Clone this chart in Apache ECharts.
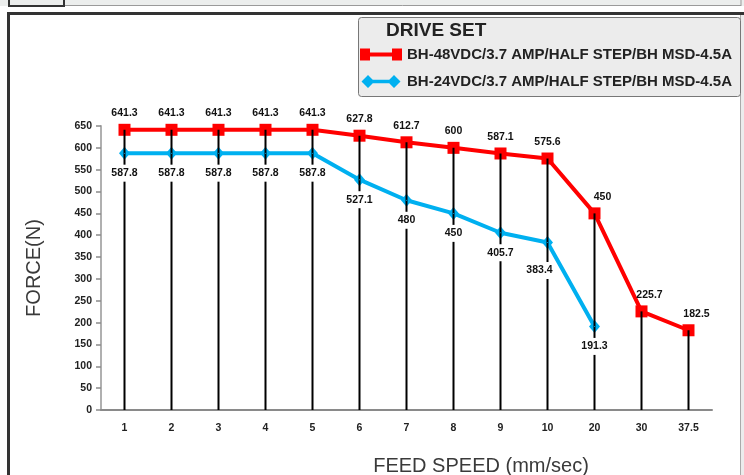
<!DOCTYPE html>
<html>
<head>
<meta charset="utf-8">
<script src="https://cdn.jsdelivr.net/npm/echarts@6/dist/echarts.min.js"></script>
<style>
html,body{margin:0;padding:0;background:#fff;}
#chart{width:744px;height:475px;}
</style>
</head>
<body>
<div id="chart"></div>
<script>
const categories = ['1','2','3','4','5','6','7','8','9','10','20','30','37.5'];
const force48 = [641.3,641.3,641.3,641.3,641.3,627.8,612.7,600,587.1,575.6,450,225.7,182.5];
const force24 = [587.8,587.8,587.8,587.8,587.8,527.1,480,450,405.7,383.4,191.3,null,null];
const seriesNames = ['BH-48VDC/3.7 AMP/HALF STEP/BH MSD-4.5A','BH-24VDC/3.7 AMP/HALF STEP/BH MSD-4.5A'];
const yMin = 0, yMax = 650, yStep = 50;

const FONT = '"Liberation Sans", Arial, sans-serif';
const dropValues = categories.map((c, i) => Math.max(force48[i], force24[i] == null ? 0 : force24[i]));
const redData = force48.map((v, i) => i >= 10 ? {value: v, label: {offset: [8, 0]}} : v);
const blueLabelData = force24.map((v, i) => i === 9 ? {value: v, label: {offset: [-8, 8]}} : v);

const chart = echarts.init(document.getElementById('chart'), null, {renderer: 'canvas'});
chart.setOption({
  animation: false,
  backgroundColor: '#fff',
  textStyle: {fontFamily: FONT},
  graphic: [
    {type: 'rect', z: -10, shape: {x: 0, y: 0, width: 744, height: 6}, style: {fill: '#eceeed'}},
    {type: 'line', z: -9, shape: {x1: 64, y1: 5.5, x2: 741, y2: 5.5}, style: {stroke: '#9a9a9a', lineWidth: 1}},
    {type: 'line', z: -9, shape: {x1: 741, y1: 0, x2: 741, y2: 6}, style: {stroke: '#9a9a9a', lineWidth: 1}},
    {type: 'rect', z: -9, shape: {x: 9, y: -3, width: 55, height: 9}, style: {fill: 'none', stroke: '#333', lineWidth: 2}},
    {type: 'rect', z: -10, shape: {x: 741, y: 15, width: 3, height: 460}, style: {fill: '#ececec'}},
    {type: 'line', z: -9, shape: {x1: 740.5, y1: 14, x2: 740.5, y2: 475}, style: {stroke: '#aaa', lineWidth: 1}},
    {type: 'line', z: -8, shape: {x1: 8.5, y1: 12, x2: 8.5, y2: 475}, style: {stroke: '#333', lineWidth: 3}},
    {type: 'line', z: -8, shape: {x1: 7, y1: 13.5, x2: 744, y2: 13.5}, style: {stroke: '#333', lineWidth: 3}},
    {type: 'rect', z: -5, shape: {x: 358.5, y: 17.5, width: 382, height: 79, r: 3}, style: {fill: '#ececec', stroke: '#777', lineWidth: 1}},
    {type: 'text', z: 10, left: 386, top: 21, style: {text: 'DRIVE SET', font: 'bold 19px ' + FONT, fill: '#222'}},
    {type: 'text', z: 10, x: 34, y: 268, rotation: Math.PI / 2,
      style: {x: 0, y: 0, text: 'FORCE(N)', font: '20px ' + FONT, fill: '#3a3a3a', align: 'center', verticalAlign: 'middle'}},
    {type: 'text', z: 10, style: {x: 481, y: 466, text: 'FEED SPEED (mm/sec)', font: '20px ' + FONT, fill: '#3a3a3a', align: 'center', verticalAlign: 'middle'}}
  ],
  legend: {
    orient: 'vertical',
    left: 360,
    top: 47,
    padding: 0,
    itemWidth: 42,
    itemHeight: 13,
    itemGap: 12,
    selectedMode: false,
    textStyle: {fontFamily: FONT, fontWeight: 'bold', fontSize: 15, color: '#222'},
    data: [
      {name: seriesNames[0], icon: 'path://M0,0h10v12h-10z M32,0h10v12h-10z M10,4h22v4h-22z'},
      {name: seriesNames[1], icon: 'path://M0,7L7,0L14,7L7,14Z M28,7L35,0L42,7L35,14Z M10,5h22v4h-22z'}
    ]
  },
  grid: {left: 101, right: 32, top: 126, bottom: 65, containLabel: false},
  xAxis: {
    type: 'category',
    data: categories,
    boundaryGap: true,
    axisLine: {lineStyle: {color: '#8a8a8a', width: 2}},
    axisTick: {show: false},
    axisLabel: {fontFamily: FONT, fontWeight: 'bold', fontSize: 10.5, color: '#222', margin: 13}
  },
  yAxis: {
    type: 'value',
    min: yMin, max: yMax, interval: yStep,
    axisLine: {show: true, lineStyle: {color: '#b0b0b0', width: 2}},
    axisTick: {show: true, length: 5, lineStyle: {color: '#8a8a8a', width: 1.5}},
    splitLine: {show: false},
    axisLabel: {fontFamily: FONT, fontWeight: 'bold', fontSize: 10.5, color: '#222', margin: 9}
  },
  series: [
    {
      name: seriesNames[0], type: 'line', z: 2, data: redData,
      symbol: 'rect', symbolSize: 12,
      itemStyle: {color: '#ff0000'},
      lineStyle: {color: '#ff0000', width: 4},
      label: {show: true, position: 'top', distance: 5, fontFamily: FONT, fontWeight: 'bold', fontSize: 10.5, color: '#111'}
    },
    {
      name: seriesNames[1], type: 'line', z: 2, data: force24,
      symbol: 'diamond', symbolSize: [11, 13],
      itemStyle: {color: '#00b0f0'},
      lineStyle: {color: '#00b0f0', width: 4},
      label: {show: false}
    },
    {
      name: 'drop', type: 'bar', z: 3, data: dropValues, barWidth: 2, silent: true,
      itemStyle: {color: '#000'}
    },
    {
      name: 'labels24', type: 'line', z: 6, data: blueLabelData, symbol: 'circle', symbolSize: 1, silent: true,
      showAllSymbol: true,
      itemStyle: {color: '#00b0f0'},
      lineStyle: {width: 0, opacity: 0},
      label: {show: true, position: 'bottom', distance: 11, fontFamily: FONT, fontWeight: 'bold', fontSize: 10.5, color: '#111',
        backgroundColor: '#fff', padding: [3, 2, 3, 2]}
    }
  ]
});
</script>
</body>
</html>
